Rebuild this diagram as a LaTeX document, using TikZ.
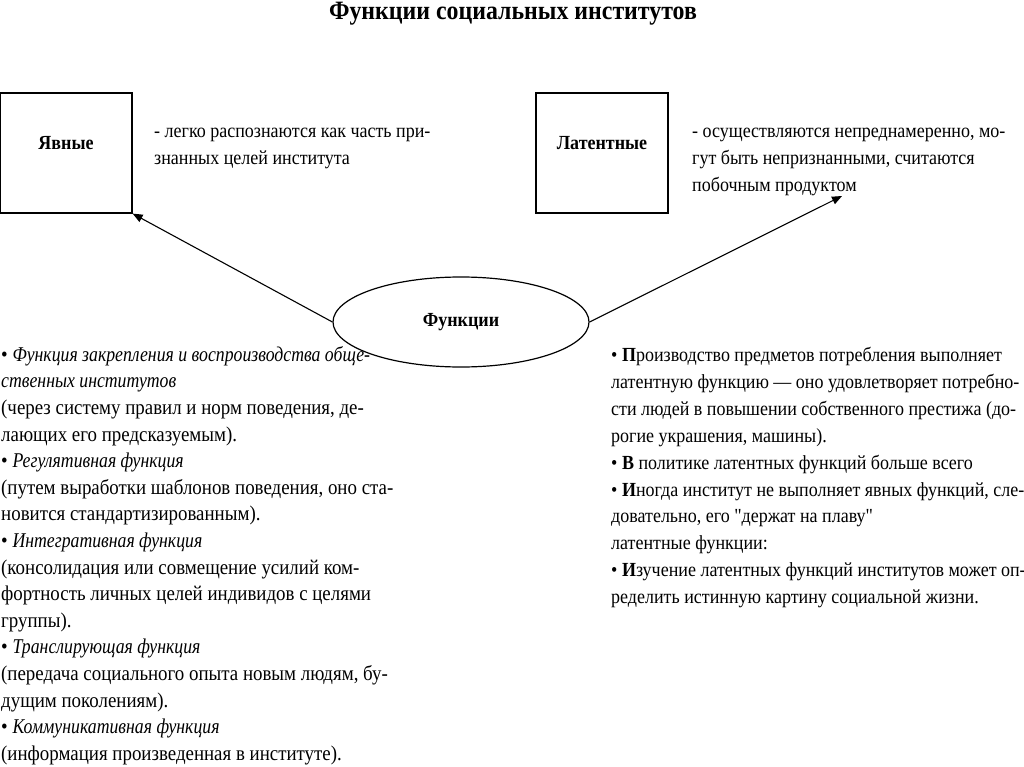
\documentclass[tikz,border=0pt]{standalone}
\usepackage{fontspec}
\setmainfont{Liberation Serif}[Ligatures=TeXOff, FakeStretch=0.9, ItalicFeatures={FakeStretch=0.845}]
\usetikzlibrary{shapes.geometric,arrows.meta}
\tikzset{
  kindbox/.style={rectangle, draw, line width=1.2pt, minimum width=132pt, minimum height=120pt, inner sep=0pt, text depth=21pt, font=\fontsize{20}{24}\selectfont\bfseries},
  funcoval/.style={ellipse, draw, line width=1.2pt, minimum width=256pt, minimum height=90pt, inner sep=0pt, font=\fontsize{20}{24}\selectfont\bfseries},
  desctext/.style={anchor=north west, align=left, inner sep=0pt, font=\fontsize{20}{27}\selectfont},
  listtext/.style={anchor=north west, align=left, inner sep=0pt, font=\fontsize{21}{26.6}\selectfont},
  arrow/.style={-{Triangle[length=10pt,width=8pt]}, line width=1.1pt},
}

\begin{document}
\begin{tikzpicture}[x=1pt,y=-1pt]
  \useasboundingbox (0,0) rectangle (1024,767);
  % Title
  \node[font=\fontsize{26.5}{30}\selectfont\bfseries] (title) at (513,14) {Функции социальных институтов};

  % Kinds of functions - boxes with their descriptions
  \node[kindbox] (yavn) at (66,153) {Явные};
  \node[kindbox] (latent) at (602,153) {Латентные};
  \node[desctext] (yavndesc) at (154,128) {- легко распознаются как часть при-\\знанных целей института};
  \node[desctext] (latentdesc) at (692,128) {- осуществляются непреднамеренно, мо-\\гут быть непризнанными, считаются\\побочным продуктом};

  % Central node
  \node[funcoval] (func) at (461,322) {Функции};
  \coordinate (latarrow) at (842,196);
  \draw[arrow] (func.west) -- (yavn.south east);
  \draw[arrow] (func.east) -- (latarrow);

  % Lists - below the oval
  \node[listtext] (yavnlist) at (1,346) {•~\textit{Функция закрепления и воспроизводства обще-}\\
    \textit{ственных институтов}\\
    (через систему правил и норм поведения, де-\\
    лающих его предсказуемым).\\
    •~\textit{Регулятивная функция}\\
    (путем выработки шаблонов поведения, оно ста-\\
    новится стандартизированным).\\
    •~\textit{Интегративная функция}\\
    (консолидация или совмещение усилий ком-\\
    фортность личных целей индивидов с целями\\
    группы).\\
    •~\textit{Транслирующая функция}\\
    (передача социального опыта новым людям, бу-\\
    дущим поколениям).\\
    •~\textit{Коммуникативная функция}\\
    (информация произведенная в институте).};
  \node[listtext, font=\fontsize{20}{26.9}\selectfont] (latentlist) at (611,347) {•~\textbf{П}роизводство предметов потребления выполняет\\
    латентную функцию — оно удовлетворяет потребно-\\
    сти людей в повышении собственного престижа (до-\\
    рогие украшения, машины).\\
    •~\textbf{В} политике латентных функций больше всего\\
    •~\textbf{И}ногда институт не выполняет явных функций, сле-\\
    довательно, его "держат на плаву"\\
    латентные функции:\\
    •~\textbf{И}зучение латентных функций институтов может оп-\\
    ределить истинную картину социальной жизни.};
\end{tikzpicture}
\end{document}
